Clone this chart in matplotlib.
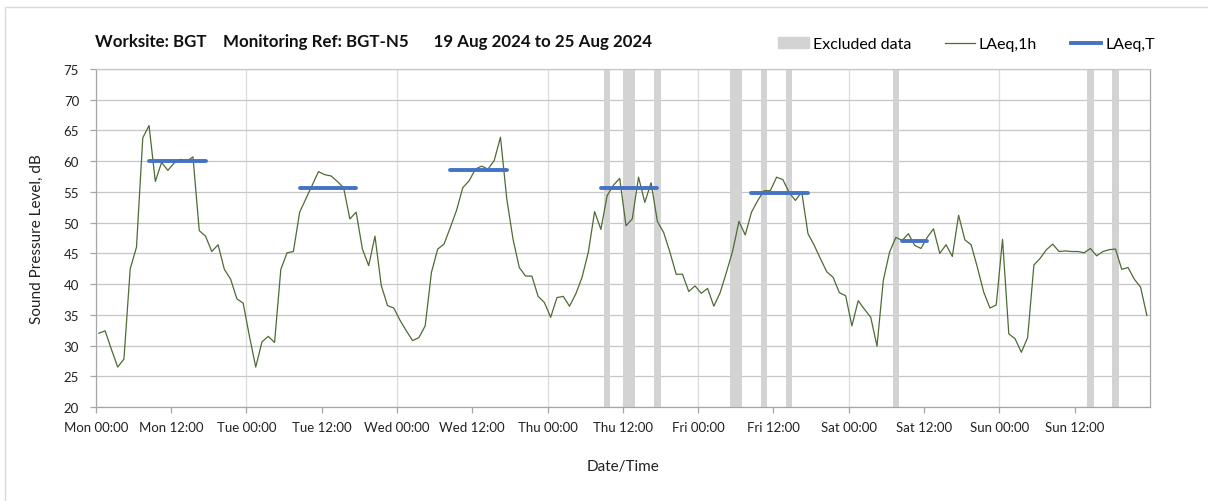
import matplotlib
matplotlib.use("Agg")
import matplotlib.pyplot as plt
from matplotlib.patches import Patch, Rectangle
from matplotlib.lines import Line2D
import numpy as np

plt.rcParams['font.family'] = ['Lato', 'DejaVu Sans']

# hourly LAeq,1h values, Mon 00:00 .. Sun 23:00 (plotted at hh:30)
laeq_1h = [
    32.0, 32.4, 29.4, 26.5, 27.8, 42.5, 46.0, 63.8, 65.8, 56.7, 59.8, 58.5,
    59.7, 60.3, 60.0, 60.7, 48.7, 47.8, 45.3, 46.4, 42.4, 40.8, 37.6, 36.9,
    31.5, 26.5, 30.6, 31.5, 30.5, 42.4, 45.1, 45.3, 51.7, 53.9, 56.1, 58.3,
    57.8, 57.6, 56.7, 55.7, 50.6, 51.7, 45.7, 43.0, 47.8, 39.8, 36.5, 36.1,
    34.1, 32.4, 30.8, 31.3, 33.2, 41.9, 45.7, 46.5, 49.2, 52.0, 55.7, 56.8,
    58.7, 59.2, 58.7, 60.1, 63.9, 53.9, 47.3, 42.7, 41.3, 41.3, 38.0, 37.0,
    34.6, 37.8, 38.0, 36.4, 38.4, 41.1, 45.2, 51.8, 48.9, 54.4, 56.1, 57.2,
    49.5, 50.6, 57.4, 53.3, 56.5, 50.2, 48.4, 45.2, 41.6, 41.6, 38.8, 39.7,
    38.5, 39.3, 36.4, 38.6, 41.9, 45.4, 50.2, 48.0, 51.7, 53.6, 55.2, 55.2,
    57.4, 57.0, 54.9, 53.6, 55.0, 48.2, 46.3, 44.1, 42.0, 41.1, 38.6, 38.1,
    33.2, 37.3, 35.9, 34.6, 29.9, 40.6, 45.2, 47.6, 47.1, 48.2, 46.3, 45.8,
    47.6, 49.0, 45.0, 46.4, 44.5, 51.2, 47.2, 46.4, 42.7, 38.7, 36.1, 36.6,
    47.3, 31.9, 31.1, 28.9, 31.3, 43.1, 44.2, 45.6, 46.5, 45.3, 45.4, 45.3,
    45.3, 45.1, 45.8, 44.6, 45.3, 45.6, 45.7, 42.4, 42.7, 40.8, 39.5, 34.9,
]

# LAeq,T daytime periods (hours from Mon 00:00) and levels
laeq_t_start = [8.5, 32.5, 56.5, 80.5, 104.5, 128.5]
laeq_t_end = [17.5, 41.5, 65.5, 89.5, 113.5, 132.5]
laeq_t = [60.0, 55.7, 58.5, 55.7, 54.8, 47.0]

# excluded hours (start, end)
excl_start = [81, 84, 89, 101, 106, 110, 127, 158, 162]
excl_end = [82, 86, 90, 103, 107, 111, 128, 159, 163]

days = ['Mon', 'Tue', 'Wed', 'Thu', 'Fri', 'Sat', 'Sun']
tick_labels = [f'{d} {h}' for d in days for h in ('00:00', '12:00')]

W, H = 1208, 502
fig = plt.figure(figsize=(W / 100, H / 100), dpi=100)
ax = fig.add_axes([95.7 / W, 1 - 408 / H, (1150 - 95.7) / W, (408 - 70) / H])

shade = '#d3d3d3'
green = '#4f6b35'
blue = '#4472c4'
grid = '#c6c6c6'

for s, e in zip(excl_start, excl_end):
    ax.axvspan(s, e, color=shade, lw=0, zorder=1)

for d in range(1, 7):
    ax.axvline(d * 24, color='#dcdcdc', lw=0.9, zorder=0)

hours = np.arange(len(laeq_1h)) + 0.5
ax.plot(hours, laeq_1h, color=green, lw=0.9, zorder=3)
for s, e, v in zip(laeq_t_start, laeq_t_end, laeq_t):
    ax.plot([s, e], [v, v], color=blue, lw=2.8, solid_capstyle='round', zorder=4)

ax.set_xlim(0, 168)
ax.set_ylim(20, 75)
ax.set_yticks(np.arange(20, 76, 5))
ax.set_xticks(np.arange(0, 168, 12))
ax.set_xticklabels(tick_labels)
ax.yaxis.grid(True, color=grid, lw=0.9)
ax.set_axisbelow(True)

for sp in ax.spines.values():
    sp.set_color('#a6a6a6')
    sp.set_linewidth(0.9)
ax.spines['top'].set_color(grid)

ax.tick_params(axis='both', colors='#a6a6a6', labelcolor='#222222',
               labelsize=9.5, length=4, width=0.9)
ax.tick_params(axis='x', pad=6)
ax.tick_params(axis='y', pad=8)

ax.set_ylabel('Sound Pressure Level, dB', fontsize=11, color='#222222', labelpad=14)
ax.set_xlabel('Date/Time', fontsize=11, color='#222222', labelpad=19)

fig.text(95 / W, 1 - 42 / H,
         'Worksite: BGT    Monitoring Ref: BGT-N5      19 Aug 2024 to 25 Aug 2024',
         fontsize=12.2, fontweight='bold', va='center', ha='left', color='#111111')

handles = [Patch(color=shade, label='Excluded data'),
           Line2D([], [], color=green, lw=0.9, label='LAeq,1h'),
           Line2D([], [], color=blue, lw=2.8, label='LAeq,T')]
fig.legend(handles=handles, loc='center left', bbox_to_anchor=(772 / W, 1 - 45 / H),
           ncol=3, frameon=False, fontsize=11.5, handlelength=1.9,
           handletextpad=0.25, columnspacing=2.1, borderaxespad=0)

# light outer frame (cut at right and bottom as in the source)
fig.add_artist(Rectangle((5 / W, -0.1), 1.2, 1.1 - 8 / H, transform=fig.transFigure,
                         fill=False, ec='#d9d9d9', lw=1))

fig.savefig('out.png', dpi=100)
